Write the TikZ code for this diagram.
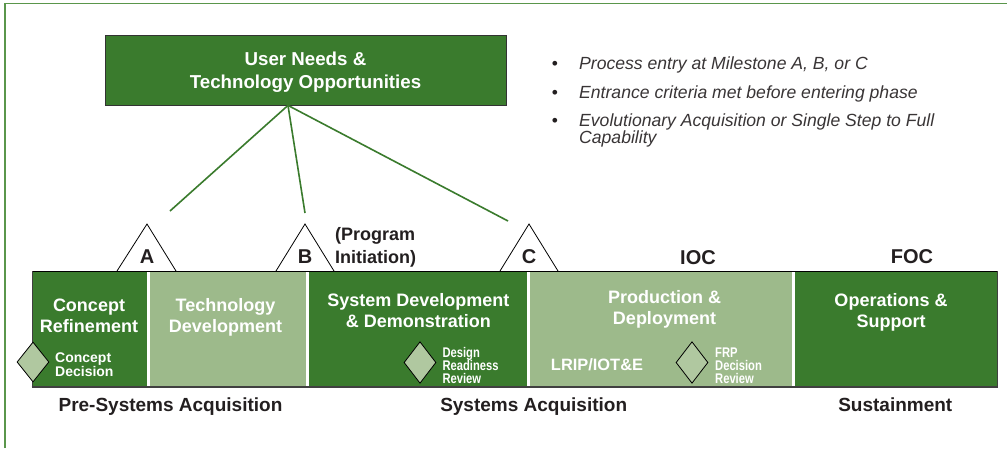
\documentclass[tikz,border=0pt]{standalone}
\usepackage{fontspec}
\setmainfont{Liberation Sans}
\newfontfamily\narrowfont[FakeStretch=0.8]{Liberation Sans}
\usetikzlibrary{shapes.geometric}
\definecolor{dkgreen}{RGB}{58,123,45}
\definecolor{ltgreen}{RGB}{157,186,139}
\definecolor{diagreen}{RGB}{176,200,160}
\definecolor{framegreen}{RGB}{90,150,75}
\definecolor{ink}{RGB}{35,31,32}
\tikzset{
  txt/.style={inner sep=0pt, anchor=base},
  phasetxt/.style={txt, text=white, font=\fontsize{18}{21}\selectfont\bfseries},
  blacktxt/.style={txt, text=ink, font=\fontsize{19}{22}\selectfont\bfseries},
  mstxt/.style={txt, text=ink, font=\fontsize{20}{22}\selectfont\bfseries},
  smalltxt/.style={txt, anchor=base west, text=white, font=\narrowfont\fontsize{14}{13}\selectfont\bfseries},
  bullettxt/.style={txt, anchor=base west, text=ink!90, font=\fontsize{17.6}{15}\selectfont\itshape},
  conn/.style={draw=dkgreen, line width=1.6pt},
  tri/.style={draw=black, fill=white, line width=0.8pt, line join=miter},
  dia/.style={shape=diamond, draw=black, fill=diagreen, line width=0.8pt, inner sep=0pt, minimum width=32pt},
}
\begin{document}
\begin{tikzpicture}[x=1pt,y=-1pt]
\useasboundingbox (0,0) rectangle (1007,448);
\fill[white] (0,0) rectangle (1007,448);
% frame
\draw[framegreen, line width=1.1pt] (5,448) -- (5,3.5) -- (1007,3.5);

% top box
\node[draw=black!80, fill=dkgreen, line width=0.8pt, minimum width=401pt, minimum height=70pt, inner sep=0pt] (need) at (305.5,70) {};
\node[phasetxt, font=\fontsize{18.7}{23}\selectfont\bfseries] (needA) at (305.5,65) {User Needs \&};
\node[phasetxt, font=\fontsize{18.7}{23}\selectfont\bfseries] (needB) at (305.5,88) {Technology Opportunities};

% connector ends
\coordinate (endA) at (170,211);
\coordinate (endB) at (305,213);
\coordinate (endC) at (508,221);
\coordinate (src) at ([xshift=-17.5pt]need.south);
\draw[conn] (src) -- (endA);
\draw[conn] (src) -- (endB);
\draw[conn] (src) -- (endC);

% milestone triangles
\draw[tri] (117,271) -- (147,224) -- (176,271);
\draw[tri] (276,271) -- (305,224) -- (334,271);
\draw[tri] (500,271) -- (529,224) -- (558,271);

% phase bar
\fill[dkgreen] (32,271) rectangle (147,387);
\fill[ltgreen] (149.5,271) rectangle (306,387);
\fill[dkgreen] (308.5,271) rectangle (527,387);
\fill[ltgreen] (529.5,271) rectangle (792,387);
\fill[dkgreen] (794.5,271) rectangle (997,387);
\draw[black, line width=1pt] (32,271) -- (997,271);
\draw[black!75, line width=2pt] (31.5,387) -- (997.5,387);
\draw[black!75, line width=1pt] (32,271) -- (32,387);
\draw[black!75, line width=1pt] (997,271) -- (997,387);

% milestone labels
\node[mstxt] (msA) at (147,263) {A};
\node[mstxt] (msB) at (305,263) {B};
\node[mstxt] (msC) at (529,263) {C};
\node[txt, anchor=base west, text=ink, font=\fontsize{18}{23}\selectfont\bfseries] (progA) at (335,240) {(Program};
\node[txt, anchor=base west, text=ink, font=\fontsize{18}{23}\selectfont\bfseries] (progB) at (335,263) {Initiation)};
\node[mstxt] (ioc) at (698,264) {IOC};
\node[mstxt] (foc) at (912,263) {FOC};

% phase texts
\node[phasetxt] (crA) at (89,311) {Concept};
\node[phasetxt] (crB) at (89,332) {Refinement};
\node[phasetxt] (tdA) at (225.5,311) {Technology};
\node[phasetxt] (tdB) at (225.5,332) {Development};
\node[phasetxt] (sdA) at (418.3,306) {System Development};
\node[phasetxt] (sdB) at (418.3,327) {\& Demonstration};
\node[phasetxt] (pdA) at (664.5,303) {Production \&};
\node[phasetxt] (pdB) at (664.5,324.5) {Deployment};
\node[phasetxt] (osA) at (891,306) {Operations \&};
\node[phasetxt] (osB) at (891,327) {Support};

% decision diamonds
\node[dia, minimum height=40pt] (cd) at (33,362) {};
\node[dia, minimum height=41.6pt] (drr) at (420,362.5) {};
\node[dia, minimum height=41.6pt] (frp) at (692,362.5) {};
\node[txt, anchor=base west, text=white, font=\fontsize{14}{13}\selectfont\bfseries] (cdA) at (55,362.7) {Concept};
\node[txt, anchor=base west, text=white, font=\fontsize{14}{13}\selectfont\bfseries] (cdB) at (55,376) {Decision};
\node[smalltxt] (drrA) at (442.3,357.7) {Design};
\node[smalltxt] (drrB) at (442.3,370.7) {Readiness};
\node[smalltxt] (drrC) at (442.3,383.5) {Review};
\node[smalltxt] (frpA) at (715,357.7) {FRP};
\node[smalltxt] (frpB) at (715,370.7) {Decision};
\node[smalltxt] (frpC) at (715,383.5) {Review};
\node[txt, text=white, font=\fontsize{16.4}{18}\selectfont\bfseries] (lrip) at (597,370) {LRIP/IOT\&E};

% bottom labels
\node[blacktxt] (pre) at (170.5,411) {Pre-Systems Acquisition};
\node[blacktxt] (sys) at (533.7,411.5) {Systems Acquisition};
\node[blacktxt] (sus) at (895.3,411.5) {Sustainment};

% bullets
\node[txt, text=ink, font=\fontsize{17.5}{15}\selectfont] (b1) at (555,69) {\textbullet};
\node[txt, text=ink, font=\fontsize{17.5}{15}\selectfont] (b2) at (555,98) {\textbullet};
\node[txt, text=ink, font=\fontsize{17.5}{15}\selectfont] (b3) at (555,126.5) {\textbullet};
\node[bullettxt] (t1) at (579,69) {Process entry at Milestone A, B, or C};
\node[bullettxt] (t2) at (579,98) {Entrance criteria met before entering phase};
\node[bullettxt] (t3) at (579,126.5) {Evolutionary Acquisition or Single Step to Full};
\node[bullettxt] (t4) at (579,143) {Capability};
\end{tikzpicture}
\end{document}
